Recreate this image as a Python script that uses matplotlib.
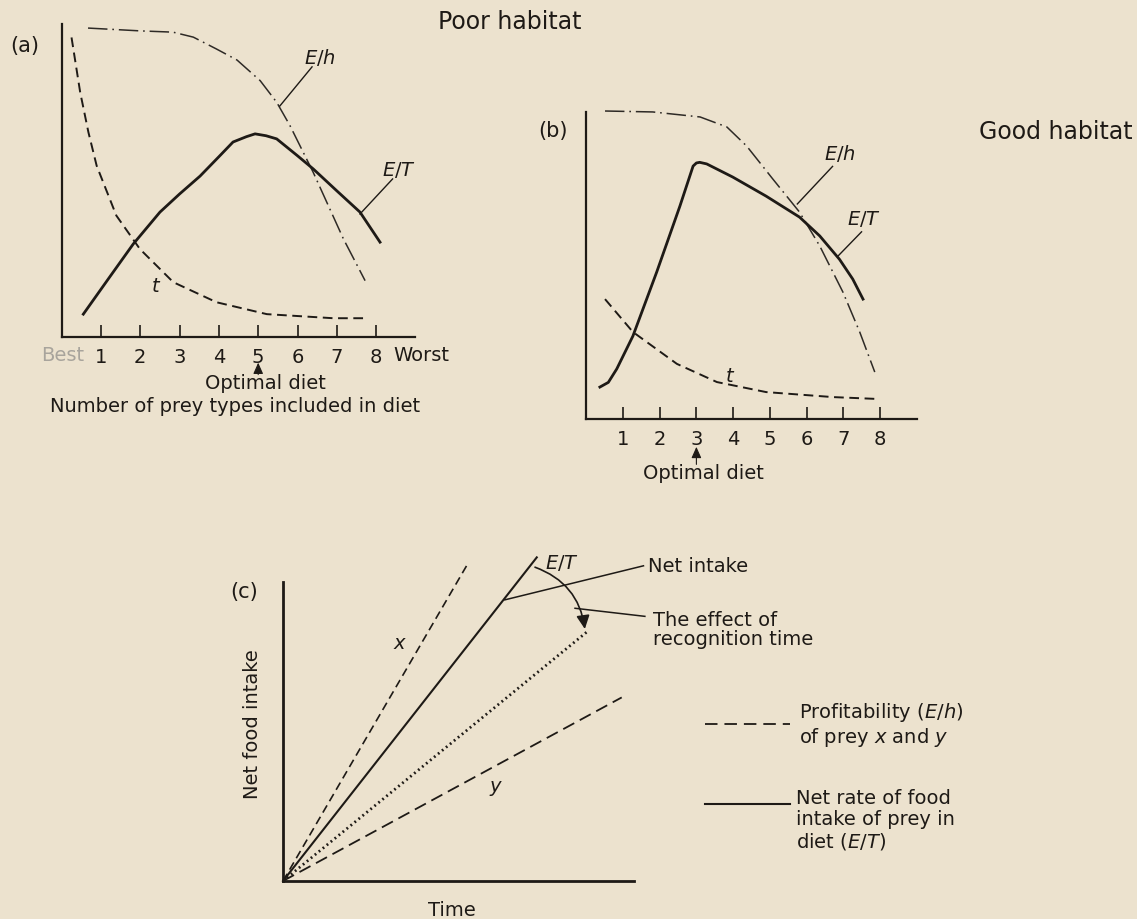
import matplotlib
matplotlib.use("Agg")
import matplotlib.pyplot as plt
import numpy as np

plt.rcParams['font.family'] = ['DejaVu Sans']
plt.rcParams['mathtext.fontset'] = 'dejavusans'
plt.rcParams['lines.scale_dashes'] = False
plt.rcParams['lines.solid_joinstyle'] = 'round'
plt.rcParams['lines.dash_joinstyle'] = 'round'

bg = '#ece2ce'
ink = '#1e1a16'

# prey types on the x axis
prey_ticks = [1, 2, 3, 4, 5, 6, 7, 8]
prey_labels = ['1', '2', '3', '4', '5', '6', '7', '8']

# (a) poor habitat
eh_a_x = [0.67, 2.0, 2.83, 3.35, 3.94, 4.46, 5.05, 5.47, 5.81, 6.4, 7.17, 7.72]
eh_a_y = [9.87, 9.78, 9.74, 9.58, 9.2, 8.85, 8.19, 7.5, 6.75, 5.26, 3.13, 1.8]
et_a_x = [0.55, 1.2, 1.82, 2.5, 3.0, 3.52, 4.0, 4.36, 4.7, 4.92, 5.2, 5.47, 6.0, 6.4, 7.0, 7.59, 8.1]
et_a_y = [0.73, 1.88, 2.97, 3.99, 4.57, 5.14, 5.76, 6.23, 6.4, 6.49, 6.43, 6.33, 5.79, 5.37, 4.67, 3.99, 3.03]
t_a_x = [0.25, 0.47, 0.68, 0.89, 1.39, 1.99, 2.84, 3.94, 5.22, 6.91, 7.67]
t_a_y = [9.57, 7.82, 6.54, 5.47, 3.88, 2.81, 1.75, 1.11, 0.73, 0.6, 0.6]

# (b) good habitat
eh_b_x = [0.51, 1.81, 3.1, 3.83, 4.37, 5.08, 5.81, 6.36, 6.99, 7.45, 7.86]
eh_b_y = [9.84, 9.81, 9.65, 9.33, 8.72, 7.67, 6.61, 5.53, 4.06, 2.78, 1.5]
et_b_x = [0.37, 0.6, 0.83, 1.27, 1.92, 2.55, 2.91, 3.0, 3.09, 3.28, 3.99, 4.9, 5.81, 6.36, 6.9, 7.26, 7.54]
et_b_y = [1.02, 1.17, 1.6, 2.65, 4.7, 6.8, 8.08, 8.18, 8.2, 8.15, 7.73, 7.12, 6.45, 5.85, 5.1, 4.47, 3.83]
t_b_x = [0.51, 1.27, 2.47, 3.56, 4.9, 6.72, 7.94]
t_b_y = [3.83, 2.78, 1.76, 1.18, 0.86, 0.7, 0.64]

# (c) cumulative intake lines from the origin: end points (time, intake)
x_prey = [0, 5.23], [0, 8.98]
et_line = [0, 7.23], [0, 9.22]
recog = [0, 8.65], [0, 7.09]
y_prey = [0, 9.65], [0, 5.23]

W, H = 1137, 920


def fx(px):
    return px / W


def fy(py):
    return 1 - py / H


fig = plt.figure(figsize=(W / 100, H / 100), dpi=100, facecolor=bg)

dash_eh = (14, 3.5, 1.2, 3.5)
dash_t = (7, 4)
up_arrow = dict(arrowstyle='-|>,head_length=0.45,head_width=0.2', color=ink, lw=0.8,
                mutation_scale=15, shrinkA=0, shrinkB=0)


def setup_prey_axes(ax, ytop):
    ax.set_facecolor('none')
    ax.set_xlim(0, 9)
    ax.set_ylim(0, ytop)
    for s in ['top', 'right']:
        ax.spines[s].set_visible(False)
    for s in ['left', 'bottom']:
        ax.spines[s].set_linewidth(1.6)
        ax.spines[s].set_color(ink)
    ax.set_yticks([])
    ax.set_xticks(prey_ticks)
    ax.set_xticklabels(prey_labels, fontsize=14, color=ink)
    ax.tick_params(axis='x', direction='in', length=9, width=1.2, color=ink, pad=7)


# ---- (a)
ax_a = fig.add_axes([fx(61.7), fy(338), 353.7 / W, 313 / H])
setup_prey_axes(ax_a, 10)
ax_a.plot(eh_a_x, eh_a_y, color='#2e2a26', lw=1.1, dashes=dash_eh, clip_on=False)
ax_a.plot(et_a_x, et_a_y, color=ink, lw=2.0, clip_on=False)
ax_a.plot(t_a_x, t_a_y, color=ink, lw=1.4, dashes=dash_t, clip_on=False)
ax_a.text(6.57, 8.96, '$E/h$', fontsize=14, ha='center', va='center', color=ink)
ax_a.plot([6.37, 5.55], [8.63, 7.38], color=ink, lw=1.0)
ax_a.text(8.58, 5.37, '$E/T$', fontsize=14, ha='center', va='center', color=ink, clip_on=False)
ax_a.plot([8.42, 7.59], [5.05, 3.93], color=ink, lw=1.0)
ax_a.text(2.41, 1.64, '$t$', fontsize=14, ha='center', va='center', color=ink)
ax_a.text(0.02, -0.56, 'Best', fontsize=14, ha='center', va='center', color='#a8a49c')
ax_a.text(8.43, -0.56, 'Worst', fontsize=14, ha='left', va='center', color=ink)
ax_a.annotate('', xy=(5, -0.82), xytext=(5, -1.2), annotation_clip=False, arrowprops=up_arrow)
ax_a.text(5.18, -1.45, 'Optimal diet', fontsize=14, ha='center', va='center', color=ink)
ax_a.text(4.41, -2.2, 'Number of prey types included in diet', fontsize=14,
          ha='center', va='center', color=ink)

# ---- (b)
ax_b = fig.add_axes([fx(586.3), fy(420), 330.3 / W, 307 / H])
setup_prey_axes(ax_b, 307 / 31.3)
ax_b.plot(eh_b_x, eh_b_y, color='#2e2a26', lw=1.1, dashes=dash_eh, clip_on=False)
ax_b.plot(et_b_x, et_b_y, color=ink, lw=2.0, clip_on=False)
ax_b.plot(t_b_x, t_b_y, color=ink, lw=1.4, dashes=dash_t, clip_on=False)
ax_b.text(6.91, 8.52, '$E/h$', fontsize=14, ha='center', va='center', color=ink)
ax_b.plot([6.71, 5.75], [8.07, 6.87], color=ink, lw=1.0)
ax_b.text(7.56, 6.41, '$E/T$', fontsize=14, ha='center', va='center', color=ink)
ax_b.plot([7.5, 6.87], [5.98, 5.22], color=ink, lw=1.0)
ax_b.text(3.92, 1.38, '$t$', fontsize=14, ha='center', va='center', color=ink)
ax_b.annotate('', xy=(3, -0.89), xytext=(3, -1.45), annotation_clip=False, arrowprops=up_arrow)
ax_b.text(3.18, -1.7, 'Optimal diet', fontsize=14, ha='center', va='center', color=ink)

# ---- (c)
ax_c = fig.add_axes([fx(283), fy(882), 351 / W, 299 / H])
ax_c.set_facecolor('none')
ax_c.set_xlim(0, 10)
ax_c.set_ylim(0, 299 / 35.1)
for s in ['top', 'right']:
    ax_c.spines[s].set_visible(False)
for s in ['left', 'bottom']:
    ax_c.spines[s].set_linewidth(2.0)
    ax_c.spines[s].set_color(ink)
ax_c.set_xticks([])
ax_c.set_yticks([])
ax_c.plot(*x_prey, color=ink, lw=1.2, dashes=(6, 3.5), clip_on=False)
ax_c.plot(*et_line, color=ink, lw=1.5, clip_on=False)
ax_c.plot(*recog, color=ink, lw=2.0, dashes=(1.3, 2.4), clip_on=False)
ax_c.plot(*y_prey, color=ink, lw=1.3, dashes=(9, 4.5), clip_on=False)
ax_c.text(3.33, 6.8, '$x$', fontsize=14, ha='center', va='center', color=ink)
ax_c.text(6.08, 2.67, '$y$', fontsize=14, ha='center', va='center', color=ink)
ax_c.text(7.95, 9.08, '$E/T$', fontsize=14, ha='center', va='center', color=ink)
ax_c.plot([6.32, 10.27], [8.01, 8.98], color=ink, lw=1.1, clip_on=False)
ax_c.text(10.41, 8.98, 'Net intake', fontsize=14, ha='left', va='center', color=ink)
ax_c.annotate('', xy=(8.6, 7.18), xytext=(7.18, 8.94), annotation_clip=False,
              arrowprops=dict(arrowstyle='-|>,head_length=0.45,head_width=0.22', color=ink,
                              lw=1.2, mutation_scale=18, shrinkA=0, shrinkB=0,
                              connectionstyle='arc3,rad=-0.3'))
ax_c.plot([8.32, 10.31], [7.77, 7.54], color=ink, lw=1.1, clip_on=False)
ax_c.text(10.55, 7.18, 'The effect of\nrecognition time', fontsize=14, ha='left',
          va='center', linespacing=1.0, color=ink)
ax_c.text(4.81, -0.8, 'Time', fontsize=14, ha='center', va='center', color=ink)
ax_c.text(-0.86, 4.5, 'Net food intake', fontsize=14, ha='center', va='center',
          rotation=90, color=ink)

# legend of (c)
ax_c.plot([12.02, 14.44], [4.47, 4.47], color=ink, lw=1.3, dashes=(9, 5), clip_on=False)
ax_c.text(14.71, 4.47, 'Profitability ($E/h$)\nof prey $x$ and $y$', fontsize=14,
          ha='left', va='center', linespacing=1.15, color=ink)
ax_c.plot([12.02, 14.44], [2.19, 2.19], color=ink, lw=1.5, clip_on=False)
ax_c.text(14.62, 1.75, 'Net rate of food\nintake of prey in\ndiet ($E/T$)', fontsize=14,
          ha='left', va='center', linespacing=1.1, color=ink)

# panel letters and titles
fig.text(fx(25), fy(46), '(a)', fontsize=15, ha='center', va='center', color=ink)
fig.text(fx(553), fy(131), '(b)', fontsize=15, ha='center', va='center', color=ink)
fig.text(fx(244), fy(592), '(c)', fontsize=15, ha='center', va='center', color=ink)
fig.text(fx(510), fy(22), 'Poor habitat', fontsize=17, ha='center', va='center', color=ink)
fig.text(fx(1056), fy(132), 'Good habitat', fontsize=17, ha='center', va='center', color=ink)

fig.savefig('out.png', dpi=100, facecolor=bg)
